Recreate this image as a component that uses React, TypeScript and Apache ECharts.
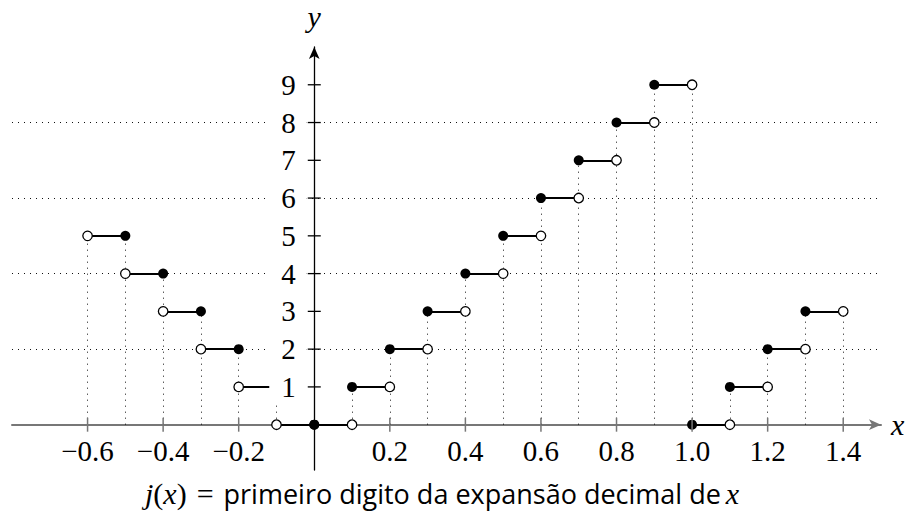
import React, { useEffect, useRef } from "react";
import * as echarts from "echarts";

// Step function j(x): value on each interval
const negBreaks = [-0.6, -0.5, -0.4, -0.3, -0.2, -0.1, 0];
const negValues = [5, 4, 3, 2, 1, 0]; // on (negBreaks[i], negBreaks[i+1]]
const posBreaks = [0, 0.1, 0.2, 0.3, 0.4, 0.5, 0.6, 0.7, 0.8, 0.9, 1.0, 1.1, 1.2, 1.3, 1.4];
const posValues = [0, 1, 2, 3, 4, 5, 6, 7, 8, 9, 0, 1, 2, 3]; // on [posBreaks[i], posBreaks[i+1])
const xTickLabels = [-0.6, -0.4, -0.2, 0.2, 0.4, 0.6, 0.8, 1.0, 1.2, 1.4];
const yTickLabels = [1, 2, 3, 4, 5, 6, 7, 8, 9];
const gridLevels = [2, 4, 6, 8];
const xRange = [-0.8, 1.5];
const yRange = [-1.2, 10];

const SERIF = "'Liberation Serif', 'DejaVu Serif', serif";
const SANS = "'Open Sans', 'Liberation Sans', sans-serif";

function buildOption() {
  const segments: any[] = [];
  const filled: number[][] = [];
  const open: number[][] = [];
  const tops = new Map<number, number>();
  const key = (x: number) => Math.round(x * 10) / 10;
  const setTop = (x: number, v: number) => {
    const k = key(x);
    tops.set(k, Math.max(tops.get(k) ?? 0, v));
  };
  for (let i = 0; i < negValues.length; i++) {
    const a = negBreaks[i], b = negBreaks[i + 1], v = negValues[i];
    segments.push({ coords: [[a, v], [b, v]] });
    open.push([a, v]);
    filled.push([b, v]);
    setTop(a, v);
    setTop(b, v);
  }
  for (let i = 0; i < posValues.length; i++) {
    const a = posBreaks[i], b = posBreaks[i + 1], v = posValues[i];
    segments.push({ coords: [[a, v], [b, v]] });
    filled.push([a, v]);
    open.push([b, v]);
    setTop(a, v);
    setTop(b, v);
  }
  const verticals: any[] = [];
  tops.forEach((top, x) => {
    if (top > 0 && x !== 0) verticals.push({ coords: [[x, 0], [x, top]] });
  });
  const dotted = { color: "#111", width: 1, type: [1, 5] as any, opacity: 1 };
  const fmt = (v: number) => (v < 0 ? "\u2212" : "") + Math.abs(v).toFixed(1);

  return {
    animation: false,
    grid: { left: 12, right: 28, top: 47, bottom: 42 },
    title: {
      text: "{mi|j}{mr|(}{mi|x}{mr|)}  {mr|=}  {s|primeiro digito da expansão decimal de} {mi|x}",
      left: 140,
      top: 473,
      textStyle: {
        fontWeight: "normal",
        rich: {
          mi: { fontFamily: SERIF, fontStyle: "italic", fontWeight: "normal", fontSize: 30, color: "#000" },
          mr: { fontFamily: SERIF, fontWeight: "normal", fontSize: 30, color: "#000" },
          s: { fontFamily: SANS, fontWeight: "normal", fontSize: 27, color: "#000" },
        },
      },
    },
    xAxis: {
      type: "value",
      min: xRange[0],
      max: xRange[1],
      name: "x",
      nameLocation: "end",
      nameGap: 10,
      nameTextStyle: { fontFamily: SERIF, fontStyle: "italic", fontSize: 30, color: "#000", verticalAlign: "middle" },
      axisLine: {
        onZero: true,
        symbol: ["none", "arrow"],
        symbolSize: [8, 12],
        lineStyle: { color: "#777", width: 2 },
      },
      axisTick: { show: false },
      axisLabel: { show: false },
      splitLine: { show: false },
    },
    yAxis: {
      type: "value",
      min: yRange[0],
      max: yRange[1],
      name: "y",
      nameLocation: "end",
      nameGap: 16,
      nameTextStyle: { fontFamily: SERIF, fontStyle: "italic", fontSize: 30, color: "#000", align: "center" },
      axisLine: {
        onZero: true,
        symbol: ["none", "arrow"],
        symbolSize: [8, 12],
        lineStyle: { color: "#000", width: 1.3 },
      },
      axisTick: { show: false },
      axisLabel: { show: false },
      splitLine: { show: false },
    },
    series: [
      {
        type: "lines",
        coordinateSystem: "cartesian2d",
        silent: true,
        z: 1,
        lineStyle: dotted,
        data: gridLevels.map((v) => ({ coords: [[xRange[0], v], [xRange[1], v]] })),
      },
      {
        type: "lines",
        coordinateSystem: "cartesian2d",
        silent: true,
        z: 1,
        lineStyle: dotted,
        data: verticals,
      },
      {
        type: "lines",
        coordinateSystem: "cartesian2d",
        silent: true,
        z: 3,
        lineStyle: { color: "#000", width: 2, type: "solid", opacity: 1 },
        data: segments,
      },
      {
        type: "scatter",
        silent: true,
        z: 4,
        symbolSize: 10,
        itemStyle: { color: "#000", opacity: 1 },
        data: filled,
      },
      {
        type: "scatter",
        silent: true,
        z: 4,
        symbolSize: 9.5,
        itemStyle: { color: "#fff", borderColor: "#000", borderWidth: 1.3, opacity: 1 },
        data: open,
      },
      {
        type: "scatter",
        silent: true,
        z: 5,
        symbolSize: 1,
        itemStyle: { color: "rgba(0,0,0,0)", opacity: 1 },
        label: {
          show: true,
          position: "left",
          distance: 7,
          formatter: (p: any) => String(p.value[1]),
          fontFamily: SERIF,
          fontSize: 29,
          color: "#000",
          backgroundColor: "#fff",
          padding: [3, 11, 2, 12],
        },
        data: yTickLabels.map((v) => [0, v]),
      },
      {
        type: "scatter",
        silent: true,
        z: 6,
        symbol: "rect",
        symbolSize: [13, 1.3],
        itemStyle: { color: "#000", opacity: 1 },
        data: yTickLabels.map((v) => [0, v]),
      },
      {
        type: "scatter",
        silent: true,
        z: 6,
        symbol: "rect",
        symbolSize: [1.5, 14],
        itemStyle: { color: "#777", opacity: 1 },
        label: {
          show: true,
          position: "bottom",
          distance: 5,
          formatter: (p: any) => fmt(p.value[0]),
          fontFamily: SERIF,
          fontSize: 29,
          color: "#000",
        },
        data: xTickLabels.map((v) => [v, 0]),
      },
    ],
  };
}

export default function App() {
  const ref = useRef<HTMLDivElement>(null);
  useEffect(() => {
    if (!ref.current) return;
    const chart = echarts.init(ref.current, null, { renderer: "svg" });
    chart.setOption(buildOption() as any);
    return () => chart.dispose();
  }, []);
  return (
    <div
      ref={ref}
      style={{ position: "fixed", left: 0, top: 0, width: 909, height: 512, background: "#fff" }}
    />
  );
}
